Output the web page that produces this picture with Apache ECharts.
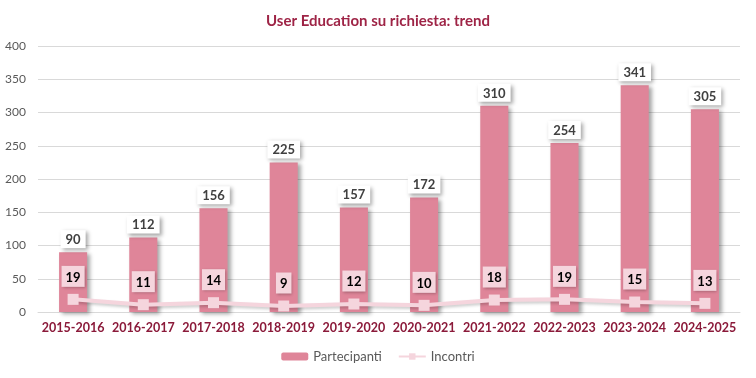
<!DOCTYPE html>
<html><head><meta charset="utf-8">
<script src="https://cdn.jsdelivr.net/npm/echarts@6/dist/echarts.min.js"></script>
<style>html,body{margin:0;padding:0;background:#fff}#c{width:756px;height:378px}</style>
</head><body><div id="c"></div>
<script>
const categories = ['2015-2016','2016-2017','2017-2018','2018-2019','2019-2020','2020-2021','2021-2022','2022-2023','2023-2024','2024-2025'];
const partecipanti = [90,112,156,225,157,172,310,254,341,305];
const incontri = [19,11,14,9,12,10,18,19,15,13];
const yTicks = [0,50,100,150,200,250,300,350,400];

const chart = echarts.init(document.getElementById('c'));
const font = 'Lato, "Open Sans", sans-serif';
chart.setOption({
  animation: false,
  title: { text: 'User Education su richiesta: trend', left: 'center', top: 9,
    textStyle: { color: '#9e2446', fontSize: 15, fontWeight: 'bold', fontFamily: font } },
  grid: { left: 38, right: 16, top: 46, bottom: 66 },
  legend: { bottom: 10, itemGap: 16, itemWidth: 27, itemHeight: 8,
    textStyle: { color: '#595959', fontSize: 13, fontFamily: font },
    data: [{name:'Partecipanti'},{name:'Incontri'}] },
  xAxis: { type: 'category', data: categories,
    axisLine: { lineStyle: { color: '#d9d9d9' } }, axisTick: { show: false },
    axisLabel: { interval: 0, color: '#8b1a3a', fontSize: 12.5, fontWeight: 'bold', fontFamily: font, margin: 9 } },
  yAxis: { type: 'value', min: yTicks[0], max: yTicks[yTicks.length-1], interval: 50,
    axisLabel: { color: '#595959', fontSize: 12, fontFamily: font, margin: 12 },
    splitLine: { lineStyle: { color: '#d9d9d9' } } },
  series: [
    { name: 'Partecipanti', type: 'bar', data: partecipanti, barWidth: '40%',
      itemStyle: { color: '#df8599', shadowColor: 'rgba(0,0,0,0.35)', shadowBlur: 4, shadowOffsetX: 3, shadowOffsetY: 2 },
      label: { show: true, position: 'top', distance: 4, color: '#404040', fontWeight: 'bold', fontSize: 13, fontFamily: font,
        backgroundColor: '#fff', padding: [3,5,2,5],
        shadowColor: 'rgba(0,0,0,0.35)', shadowBlur: 4, shadowOffsetX: 2, shadowOffsetY: 2 } },
    { name: 'Incontri', type: 'line', data: incontri, symbol: 'rect', symbolSize: 11,
      lineStyle: { color: '#f5d5dd', width: 4, shadowColor: 'rgba(0,0,0,0.2)', shadowBlur: 3, shadowOffsetY: 2 },
      itemStyle: { color: '#f5d5dd' },
      label: { show: true, position: 'top', distance: 7, color: '#000', fontWeight: 'bold', fontSize: 13, fontFamily: font,
        backgroundColor: '#f5d5dd', padding: [5,4,3,4],
        shadowColor: 'rgba(0,0,0,0.3)', shadowBlur: 3, shadowOffsetX: 1, shadowOffsetY: 1 } }
  ]
});
</script></body></html>
